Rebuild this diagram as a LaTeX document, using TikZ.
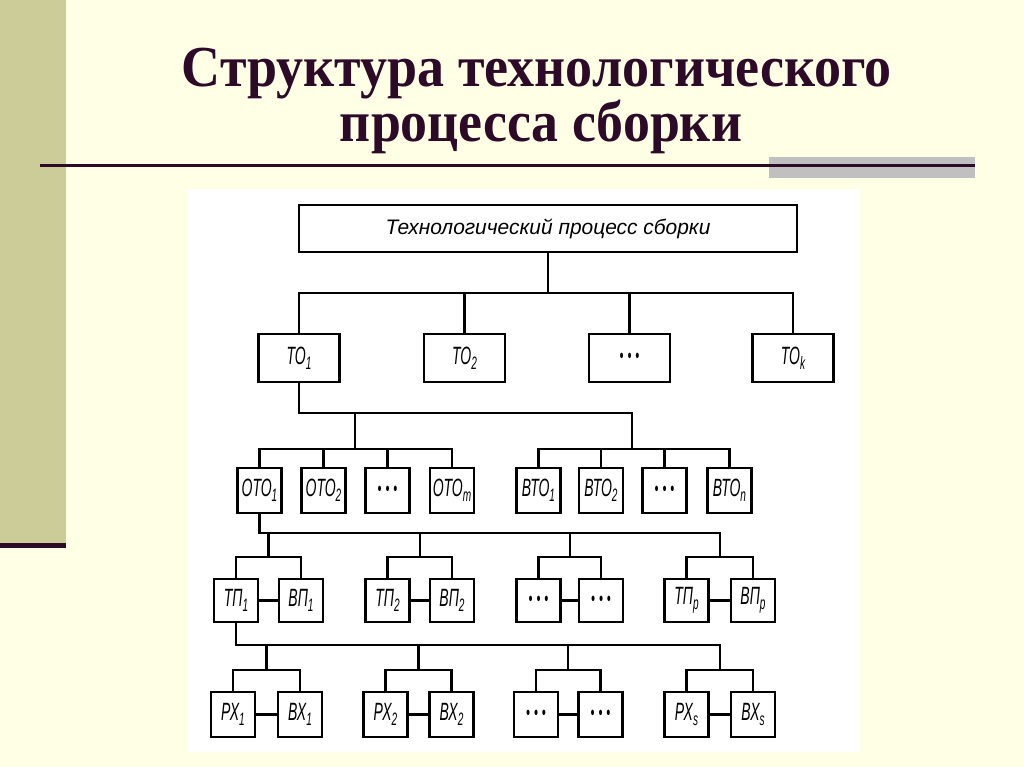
\documentclass[tikz,border=0pt]{standalone}
\usepackage{fontspec}
\usepackage{graphicx}
\newfontfamily\titlefont{Liberation Serif}
\newfontfamily\labfont[FakeStretch=0.56]{Liberation Sans}
\newfontfamily\plainsans{Liberation Sans}
\definecolor{bgcol}{RGB}{255,255,230}
\definecolor{barcol}{RGB}{204,204,153}
\definecolor{titlecol}{RGB}{44,10,40}
\definecolor{graycol}{RGB}{192,192,192}
\newcommand{\sbs}[1]{\raisebox{-5pt}{\fontsize{18}{18}\selectfont #1}}
\newcommand{\dotsbox}{\fontsize{20}{20}\selectfont\textbullet\hspace{4pt}\textbullet\hspace{4pt}\textbullet}
\tikzset{
  box/.style={draw, line width=2.6pt, minimum width=44pt, minimum height=45pt, inner sep=0pt, fill=white, font=\labfont\itshape\fontsize{25}{25}\selectfont},
  wbox/.style={box, minimum width=81pt, minimum height=48pt},
  ln/.style={line width=2.3pt, line cap=rect},
  hd/.style={anchor=base, text=titlecol, font=\titlefont\bfseries\fontsize{58}{58}\selectfont}
}
\begin{document}
\begin{tikzpicture}[x=1pt,y=-1pt]
\useasboundingbox (0,0) rectangle (1024,767);
\fill[bgcol] (0,0) rectangle (1024,767);
\fill[barcol] (0,0) rectangle (66,543);
\fill[titlecol] (0,543) rectangle (66,548);
\fill[graycol] (769,157) rectangle (975,178);
\draw[line width=3pt, titlecol] (40,166) -- (975,166);
\node[hd] (t1) at (537,87) {\resizebox{710pt}{\height}{Структура технологического}};
\node[hd] (t2) at (541,142) {\resizebox{402pt}{\height}{процесса сборки}};
\fill[white] (187,189) rectangle (860,752);

% level 1
\node[draw, line width=2.6pt, minimum width=498pt, minimum height=47pt, inner sep=0pt] (top) at (548,228.5)
  {\resizebox{325pt}{\height}{\plainsans\itshape\fontsize{21}{21}\selectfont Технологический процесс сборки}};
% level 2
\node[wbox] (to1) at (299,358) {ТО\sbs{1}};
\node[wbox] (to2) at (464.5,358) {ТО\sbs{2}};
\node[wbox] (tod) at (629.5,358) {\dotsbox};
\node[wbox] (tok) at (793,358) {ТО\sbs{k}};
% level 3
\node[box] (oto1) at (259.5,490.5) {ОТО\sbs{1}};
\node[box] (oto2) at (323.5,490.5) {ОТО\sbs{2}};
\node[box] (otod) at (387.5,490.5) {\dotsbox};
\node[box] (otom) at (452,490.5) {ОТО\sbs{m}};
\node[box] (bto1) at (538.5,490.5) {ВТО\sbs{1}};
\node[box] (bto2) at (601,490.5) {ВТО\sbs{2}};
\node[box] (btod) at (664.5,490.5) {\dotsbox};
\node[box] (bton) at (729.5,490.5) {ВТО\sbs{n}};
% level 4
\node[box, minimum height=43pt] (tp1) at (236,600.5) {ТП\sbs{1}};
\node[box, minimum height=43pt] (bp1) at (301,600.5) {ВП\sbs{1}};
\node[box, minimum height=43pt] (tp2) at (387.5,600.5) {ТП\sbs{2}};
\node[box, minimum height=43pt] (bp2) at (452,600.5) {ВП\sbs{2}};
\node[box, minimum height=43pt] (tpd) at (538.5,600.5) {\dotsbox};
\node[box, minimum height=43pt] (bpd) at (601,600.5) {\dotsbox};
\node[box, minimum height=43pt] (tpp) at (686.5,600.5) {ТП\sbs{p}};
\node[box, minimum height=43pt] (bpp) at (753,600.5) {ВП\sbs{p}};
% level 5
\node[box] (px1) at (233,714.5) {РХ\sbs{1}};
\node[box] (bx1) at (300,714.5) {ВХ\sbs{1}};
\node[box] (px2) at (385.5,714.5) {РХ\sbs{2}};
\node[box] (bx2) at (451.5,714.5) {ВХ\sbs{2}};
\node[box] (pxd) at (536,714.5) {\dotsbox};
\node[box] (bxd) at (600.5,714.5) {\dotsbox};
\node[box] (pxs) at (686.5,714.5) {РХ\sbs{s}};
\node[box] (bxs) at (753,714.5) {ВХ\sbs{s}};

% connectors level 1 -> 2
\coordinate (b1) at (548,293);
\draw[ln] (top.south) -- (b1);
\draw[ln] (to1.north) |- (b1) -| (tok.north);
\draw[ln] (to2.north) -- (to2.north |- b1);
\draw[ln] (tod.north) -- (tod.north |- b1);
% level 2 -> 3
\coordinate (j2a) at (355,413);
\coordinate (j2b) at (632,413);
\coordinate (g1) at (355,449);
\coordinate (g2) at (632,449);
\draw[ln] (to1.south) |- (j2b);
\draw[ln] (j2a) -- (g1);
\draw[ln] (j2b) -- (g2);
\draw[ln] (oto1.north) |- (g1) -| (otom.north);
\draw[ln] (oto2.north) -- (oto2.north |- g1);
\draw[ln] (otod.north) -- (otod.north |- g1);
\draw[ln] (bto1.north) |- (g2) -| (bton.north);
\draw[ln] (bto2.north) -- (bto2.north |- g2);
\draw[ln] (btod.north) -- (btod.north |- g2);
% level 3 -> 4
\coordinate (b3) at (720,533);
\draw[ln] (oto1.south) |- (b3);
\coordinate (p1) at (268.5,557);
\coordinate (p2) at (420,557);
\coordinate (p3) at (570,557);
\coordinate (p4) at (720,557);
\foreach \p in {p1,p2,p3,p4} \draw[ln] (\p |- b3) -- (\p);
\draw[ln] (tp1.north) |- (p1) -| (bp1.north);
\draw[ln] (tp2.north) |- (p2) -| (bp2.north);
\draw[ln] (tpd.north) |- (p3) -| (bpd.north);
\draw[ln] (tpp.north) |- (p4) -| (bpp.north);
\draw[ln] (tp1.east) -- (bp1.west);
\draw[ln] (tp2.east) -- (bp2.west);
\draw[ln] (tpd.east) -- (bpd.west);
\draw[ln] (tpp.east) -- (bpp.west);
% level 4 -> 5
\coordinate (b4) at (720,645);
\draw[ln] (tp1.south) |- (b4);
\coordinate (q1) at (266.5,670);
\coordinate (q2) at (418.5,670);
\coordinate (q3) at (568,670);
\coordinate (q4) at (720,670);
\foreach \q in {q1,q2,q3,q4} \draw[ln] (\q |- b4) -- (\q);
\draw[ln] (px1.north) |- (q1) -| (bx1.north);
\draw[ln] (px2.north) |- (q2) -| (bx2.north);
\draw[ln] (pxd.north) |- (q3) -| (bxd.north);
\draw[ln] (pxs.north) |- (q4) -| (bxs.north);
\draw[ln] (px1.east) -- (bx1.west);
\draw[ln] (px2.east) -- (bx2.west);
\draw[ln] (pxd.east) -- (bxd.west);
\draw[ln] (pxs.east) -- (bxs.west);
\end{tikzpicture}
\end{document}
